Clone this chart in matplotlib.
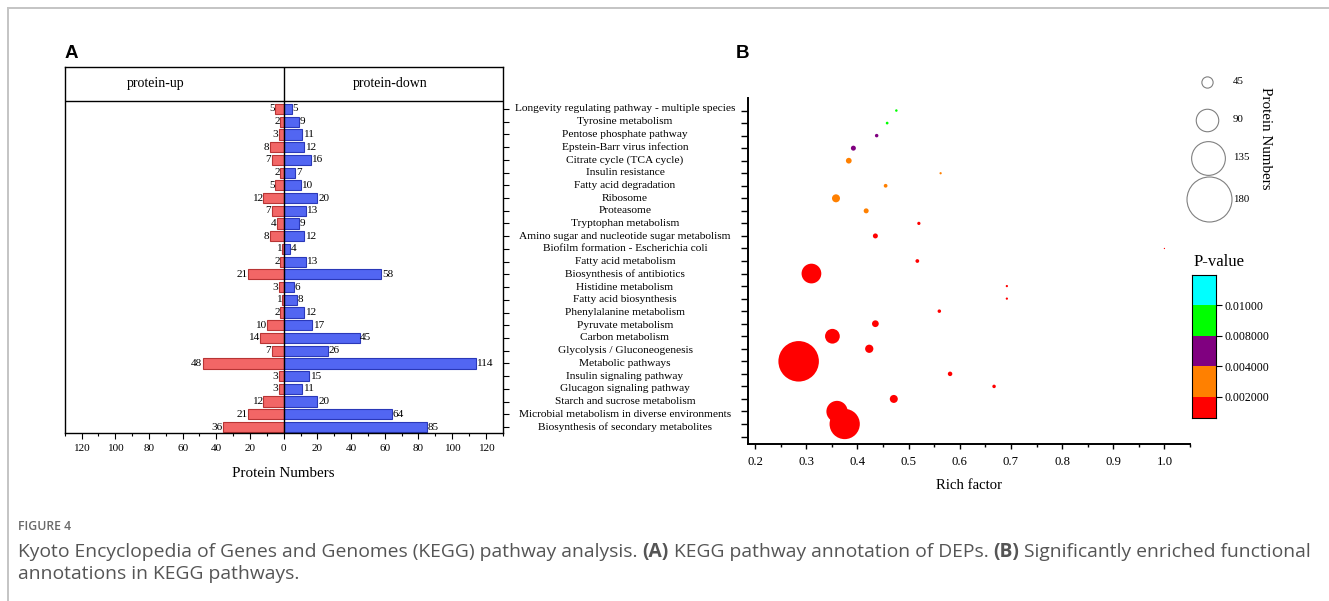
import matplotlib
matplotlib.use('Agg')
import matplotlib.pyplot as plt
import matplotlib.transforms as mtransforms
from matplotlib.colors import ListedColormap, BoundaryNorm
from matplotlib.ticker import MultipleLocator, FixedLocator

plt.rcParams['font.family'] = ['Liberation Serif', 'DejaVu Serif']

# ---------------- data ----------------
pathways = [
    "Longevity regulating pathway - multiple species",
    "Tyrosine metabolism",
    "Pentose phosphate pathway",
    "Epstein-Barr virus infection",
    "Citrate cycle (TCA cycle)",
    "Insulin resistance",
    "Fatty acid degradation",
    "Ribosome",
    "Proteasome",
    "Tryptophan metabolism",
    "Amino sugar and nucleotide sugar metabolism",
    "Biofilm formation - Escherichia coli",
    "Fatty acid metabolism",
    "Biosynthesis of antibiotics",
    "Histidine metabolism",
    "Fatty acid biosynthesis",
    "Phenylalanine metabolism",
    "Pyruvate metabolism",
    "Carbon metabolism",
    "Glycolysis / Gluconeogenesis",
    "Metabolic pathways",
    "Insulin signaling pathway",
    "Glucagon signaling pathway",
    "Starch and sucrose metabolism",
    "Microbial metabolism in diverse environments",
    "Biosynthesis of secondary metabolites",
]
protein_up = [5, 2, 3, 8, 7, 2, 5, 12, 7, 4, 8, 1, 2, 21, 3, 1, 2, 10, 14, 7, 48, 3, 3, 12, 21, 36]
protein_down = [5, 9, 11, 12, 16, 7, 10, 20, 13, 9, 12, 4, 13, 58, 6, 8, 12, 17, 45, 26, 114, 15, 11, 20, 64, 85]
protein_numbers = [10, 11, 14, 20, 23, 9, 15, 32, 20, 13, 20, 5, 15, 79, 9, 9, 14, 27, 59, 33, 162, 18, 14, 32, 85, 121]
rich_factor = [0.476, 0.458, 0.4375, 0.392, 0.383, 0.5625, 0.455, 0.358, 0.417, 0.52,
               0.435, 1.0, 0.517, 0.31, 0.692, 0.692, 0.56, 0.435, 0.351, 0.423,
               0.285, 0.581, 0.667, 0.471, 0.36, 0.375]
p_values = [0.0092, 0.0086, 0.0062, 0.0048, 0.0036, 0.0032, 0.0029, 0.0026, 0.0023, 0.0018,
            0.0015, 0.0013, 0.0011, 0.0009, 0.0008, 0.0007, 0.0006, 0.0005, 0.0004, 0.0003,
            0.0002, 0.00015, 0.0001, 0.00008, 0.00005, 0.00002]
pvalue_bounds = [0, 0.002, 0.004, 0.008, 0.01, 0.012]
pvalue_colors = ['#FF0000', '#FF8000', '#800080', '#00FF00', '#00FFFF']
pvalue_ticklabels = ['0.002000', '0.004000', '0.008000', '0.01000']
size_legend = [45, 90, 135, 180]
count_ticks = [-120, -100, -80, -60, -40, -20, 0, 20, 40, 60, 80, 100, 120]
rich_ticks = [0.2, 0.3, 0.4, 0.5, 0.6, 0.7, 0.8, 0.9, 1.0]

# ---------------- figure ----------------
W, H = 1329, 601
fig = plt.figure(figsize=(W / 100, H / 100), dpi=100)


def px_axes(x0, y0, x1, y1):
    return [x0 / W, 1 - y1 / H, (x1 - x0) / W, (y1 - y0) / H]


n = len(pathways)
rows = [n - 1 - i for i in range(n)]

# ---------- panel A ----------
axA = fig.add_axes(px_axes(64.7, 67, 502.7, 433))
up_fill, up_edge = '#F26666', '#B83434'
dn_fill, dn_edge = '#5266F2', '#2A38B8'
axA.barh(rows, [-v for v in protein_up], height=0.8, color=up_fill, edgecolor=up_edge, linewidth=0.8)
axA.barh(rows, protein_down, height=0.8, color=dn_fill, edgecolor=dn_edge, linewidth=0.8)
for r, u, d in zip(rows, protein_up, protein_down):
    axA.text(-u - 0.4, r, str(u), ha='right', va='center', fontsize=8.1)
    axA.text(d + 0.4, r, str(d), ha='left', va='center', fontsize=8.1)

header_y = n - 1 + 0.63
axA.set_ylim(-0.47, n - 1 + 3.3)
axA.set_xlim(-130, 130)
axA.axvline(0, color='black', linewidth=1.0, zorder=3)
axA.axhline(header_y, color='black', linewidth=1.0)
axA.text(-76, n - 1 + 2.0, 'protein-up', ha='center', va='center', fontsize=10)
axA.text(63, n - 1 + 2.0, 'protein-down', ha='center', va='center', fontsize=10)

axA.xaxis.set_major_locator(FixedLocator(count_ticks))
axA.set_xticklabels([str(abs(t)) for t in count_ticks], fontsize=8.1)
axA.xaxis.set_minor_locator(MultipleLocator(10))
axA.tick_params(axis='x', which='major', direction='out', length=4, width=0.8, pad=4)
axA.tick_params(axis='x', which='minor', direction='out', length=2.2, width=0.8)
axA.yaxis.set_major_locator(FixedLocator(rows))
axA.yaxis.tick_right()
axA.tick_params(axis='y', which='major', direction='out', length=4.5, width=0.8, labelright=False, labelleft=False)
for s in axA.spines.values():
    s.set_linewidth(1.0)
axA.set_xlabel('Protein Numbers', fontsize=10.8, labelpad=10)

# pathway labels centred between the panels
trans = mtransforms.blended_transform_factory(fig.transFigure, axA.transData)
for r, name in zip(rows, pathways):
    fig.text(625 / W, r, name, transform=trans, ha='center', va='center', fontsize=8.2)

# ---------- panel B ----------
axB = fig.add_axes(px_axes(748, 98, 1190, 443.7))
axB.patch.set_alpha(0)
cmap = ListedColormap(pvalue_colors)
norm = BoundaryNorm(pvalue_bounds, cmap.N)


def bubble_size(v):
    return (0.18 * v) ** 2


axB.scatter(rich_factor, rows, s=[bubble_size(v) for v in protein_numbers], c=p_values,
            cmap=cmap, norm=norm, linewidths=0, zorder=3)
axB.set_xlim(0.186, 1.05)
axB.set_ylim(-1.57, n)
axB.xaxis.set_major_locator(FixedLocator(rich_ticks))
axB.set_xticklabels(['%.1f' % t for t in rich_ticks], fontsize=9.2)
axB.xaxis.set_minor_locator(MultipleLocator(0.05))
axB.yaxis.set_major_locator(FixedLocator(list(range(-1, n))))
axB.set_yticklabels([])
axB.tick_params(axis='x', which='major', direction='out', length=3.6, width=1.0, pad=5)
axB.tick_params(axis='x', which='minor', direction='out', length=2, width=1.0)
axB.tick_params(axis='y', which='major', direction='out', length=4.8, width=1.0)
axB.spines['top'].set_visible(False)
axB.spines['right'].set_visible(False)
axB.spines['left'].set_linewidth(1.4)
axB.spines['bottom'].set_linewidth(1.4)
axB.set_xlabel('Rich factor', fontsize=10.6, labelpad=8)

# ---------- p-value colour bar ----------
cax = fig.add_axes(px_axes(1191.7, 275, 1216, 418.3))
seg_edges = [0, 0.7, 1.7, 2.7, 3.7, 4.7]
for c, y0, y1 in zip(pvalue_colors, seg_edges[:-1], seg_edges[1:]):
    cax.axhspan(y0, y1, color=c, linewidth=0)
cax.set_ylim(0, 4.7)
cax.set_xlim(0, 1)
cax.set_xticks([])
cax.yaxis.tick_right()
cax.set_yticks(seg_edges[1:-1])
cax.set_yticklabels(pvalue_ticklabels, fontsize=8.6)
cax.tick_params(axis='y', direction='out', length=4, width=0.8, pad=2)
for s in cax.spines.values():
    s.set_linewidth(0.8)
fig.text(1219 / W, 1 - 262 / H, 'P-value', ha='center', va='center', fontsize=12)

# ---------- overlay: size legend, border, labels, caption ----------
ov = fig.add_axes([0, 0, 1, 1], zorder=5)
ov.set_xlim(0, W)
ov.set_ylim(H, 0)
ov.axis('off')
leg_pos = [(1207, 82), (1207, 119.5), (1208, 157.5), (1209, 199)]
for v, (x, y) in zip(size_legend, leg_pos):
    ov.scatter([x], [y], s=bubble_size(v), facecolor='white', edgecolor='#808080', linewidth=0.8)
    ov.text(1233, y, str(v), ha='left', va='center', fontsize=7.8)
ov.text(1266, 138, 'Protein Numbers', rotation=-90, ha='center', va='center', fontsize=10.8)

ov.plot([7.5, 7.5], [7.5, H], color='#C4C4C4', linewidth=1.4)
ov.plot([7.5, W], [7.5, 7.5], color='#C4C4C4', linewidth=1.4)

ov.text(65, 53, 'A', ha='left', va='center', fontsize=13.5, fontweight='bold', family='Liberation Sans')
ov.text(736, 53, 'B', ha='left', va='center', fontsize=13.5, fontweight='bold', family='Liberation Sans')

cap_font = 'Open Sans'
cap_color = '#555555'
cap_size = 13.85
ov.text(18, 526, 'FIGURE 4', ha='left', va='center', fontsize=8.8, color='#6A6A6A',
        family=cap_font, fontweight='semibold')

renderer = fig.canvas.get_renderer()


def text_width(s, weight):
    t = ov.text(0, 0, s, fontsize=cap_size, family=cap_font, fontweight=weight)
    w = t.get_window_extent(renderer).width
    t.remove()
    return w


space_w = text_width('x x', 'normal') - text_width('xx', 'normal')


def draw_runs(x, y, runs):
    for s, weight in runs:
        t = ov.text(x, y, s, ha='left', va='center', fontsize=cap_size, family=cap_font,
                    fontweight=weight, color=cap_color)
        x += t.get_window_extent(renderer).width + space_w


draw_runs(18, 552, [
    ('Kyoto Encyclopedia of Genes and Genomes (KEGG) pathway analysis.', 'normal'),
    ('(A)', 'bold'),
    ('KEGG pathway annotation of DEPs.', 'normal'),
    ('(B)', 'bold'),
    ('Significantly enriched functional', 'normal'),
])
draw_runs(18, 574, [('annotations in KEGG pathways.', 'normal')])

fig.savefig('out.png', dpi=100)
